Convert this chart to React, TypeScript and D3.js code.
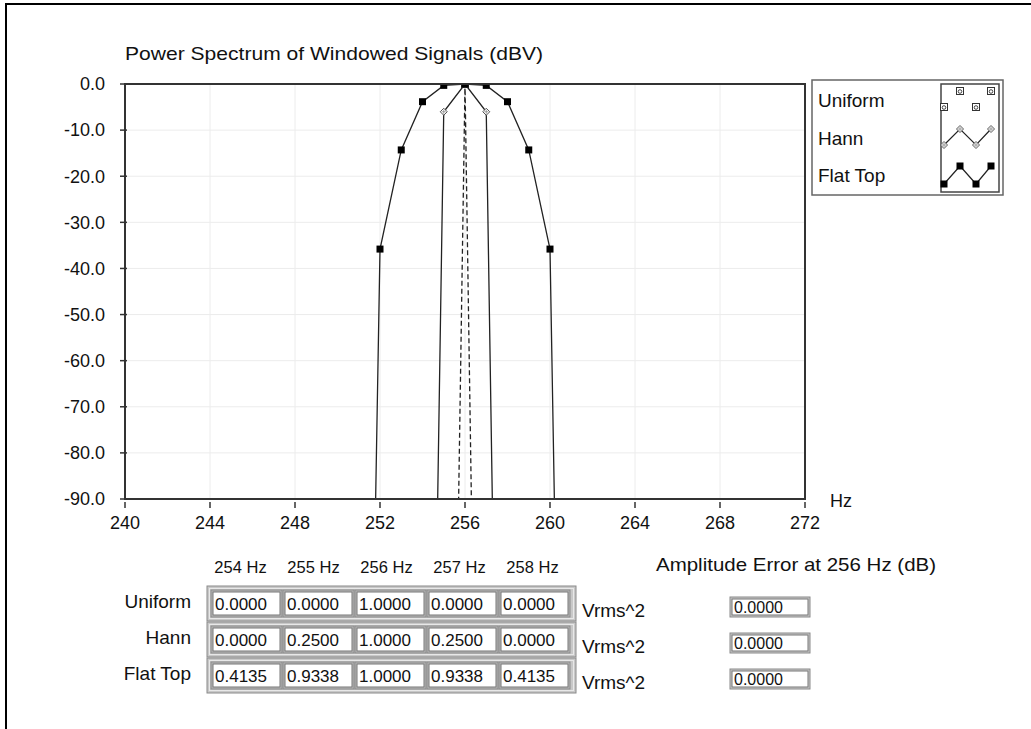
import React from "react";
import * as d3 from "d3";

// ---------- data ----------
const bins = [250, 251, 252, 253, 254, 255, 256, 257, 258, 259, 260, 261, 262];
const uniformDb = [-300, -300, -300, -300, -300, -300, 0, -300, -300, -300, -300, -300, -300];
const hannDb = [-300, -300, -300, -300, -300, -6.02, 0, -6.02, -300, -300, -300, -300, -300];
const flatTopDb = [-300, -300, -35.8, -14.3, -3.84, -0.3, 0, -0.3, -3.84, -14.3, -35.8, -300, -300];

const xTicks = [240, 244, 248, 252, 256, 260, 264, 268, 272];
const yTicks = [0, -10, -20, -30, -40, -50, -60, -70, -80, -90];

const seriesNames = ["Uniform", "Hann", "Flat Top"];
const tableHeaders = ["254 Hz", "255 Hz", "256 Hz", "257 Hz", "258 Hz"];
const uniformVals = ["0.0000", "0.0000", "1.0000", "0.0000", "0.0000"];
const hannVals = ["0.0000", "0.2500", "1.0000", "0.2500", "0.0000"];
const flatTopVals = ["0.4135", "0.9338", "1.0000", "0.9338", "0.4135"];
const ampErrors = ["0.0000", "0.0000", "0.0000"];

const FONT = "'Liberation Sans', Arial, sans-serif";

const PX0 = 125, PX1 = 805, PY0 = 84, PY1 = 499;

function Marker({ kind, x, y }: { kind: string; x: number; y: number }) {
  if (kind === "square") {
    return <rect x={x - 3.5} y={y - 3.5} width={7} height={7} fill="#000" />;
  }
  if (kind === "diamond") {
    return (
      <g>
        <path d={`M${x},${y - 3.5}L${x + 3.5},${y}L${x},${y + 3.5}L${x - 3.5},${y}Z`} fill="#fff" stroke="#555" strokeWidth={1} />
        <path d={`M${x - 2},${y}L${x + 2},${y}M${x},${y - 2}L${x},${y + 2}`} stroke="#888" strokeWidth={0.8} />
      </g>
    );
  }
  return (
    <g>
      <rect x={x - 3.5} y={y - 3.5} width={7} height={7} fill="#fff" stroke="#333" strokeWidth={1} />
      <circle cx={x} cy={y + 0.5} r={1.8} fill="none" stroke="#333" strokeWidth={0.9} />
    </g>
  );
}

export default function App() {
  const x = d3.scaleLinear().domain([240, 272]).range([PX0, PX1]);
  const y = d3.scaleLinear().domain([-90, 0]).range([PY1, PY0]);
  const line = d3
    .line<number>()
    .x((_, i) => x(bins[i]))
    .y((d) => y(d));

  const series = [
    { vals: uniformDb, dash: "5,3", marker: "circle" },
    { vals: hannDb, dash: undefined, marker: "diamond" },
    { vals: flatTopDb, dash: undefined, marker: "square" },
  ];

  // legend symbols
  const legX = [944, 960, 976, 991];
  const legY = [
    [107, 91],
    [145, 129],
    [184, 166],
  ];
  const legLabelY = [107, 145, 182];

  const rowVals = [uniformVals, hannVals, flatTopVals];
  const rowTop0 = 586;
  const rowPitch = 36;
  const cellX0 = 213;
  const cellPitch = 72;
  const cellW = 67;

  return (
    <svg
      width={1031}
      height={729}
      style={{ position: "absolute", left: 0, top: 0, background: "#fff" }}
      fontFamily={FONT}
    >
      <defs>
        <clipPath id="plotclip">
          <rect x={PX0} y={PY0} width={PX1 - PX0} height={PY1 - PY0} />
        </clipPath>
      </defs>
      <rect x={0} y={0} width={1031} height={729} fill="#fff" />
      {/* outer frame */}
      <rect x={6} y={4} width={1100} height={800} fill="none" stroke="#000" strokeWidth={2} />

      {/* title */}
      <text x={125} y={60} fontSize={19} fill="#111" textLength={418} lengthAdjust="spacingAndGlyphs">
        Power Spectrum of Windowed Signals (dBV)
      </text>

      {/* grid */}
      {xTicks.map((t) => (
        <line key={"gx" + t} x1={x(t)} x2={x(t)} y1={PY0} y2={PY1} stroke="#ececec" strokeWidth={1} />
      ))}
      {yTicks.map((t) => (
        <line key={"gy" + t} x1={PX0} x2={PX1} y1={y(t)} y2={y(t)} stroke="#ececec" strokeWidth={1} />
      ))}

      {/* series */}
      <g clipPath="url(#plotclip)">
        {series.map((s, si) => (
          <path
            key={"s" + si}
            d={line(s.vals) || ""}
            fill="none"
            stroke="#222"
            strokeWidth={1.3}
            strokeDasharray={s.dash}
          />
        ))}
        {series.map((s, si) =>
          s.vals.map((v, i) =>
            v > -95 ? <Marker key={`m${si}-${i}`} kind={s.marker} x={x(bins[i])} y={y(v)} /> : null
          )
        )}
      </g>

      {/* plot frame */}
      <rect x={PX0} y={PY0} width={PX1 - PX0} height={PY1 - PY0} fill="none" stroke="#333" strokeWidth={2} />

      {/* y ticks */}
      {yTicks.map((t) => (
        <g key={"yt" + t}>
          <line x1={120} x2={127} y1={y(t)} y2={y(t)} stroke="#333" strokeWidth={1.5} />
          <text x={105} y={y(t)} dy="0.35em" textAnchor="end" fontSize={18} fill="#111">
            {t.toFixed(1)}
          </text>
        </g>
      ))}
      {/* x ticks */}
      {xTicks.map((t) => (
        <g key={"xt" + t}>
          <line x1={x(t)} x2={x(t)} y1={502} y2={508} stroke="#333" strokeWidth={1.5} />
          <text x={x(t)} y={529} textAnchor="middle" fontSize={18} fill="#111">
            {t}
          </text>
        </g>
      ))}
      <text x={830} y={507} fontSize={18} fill="#111">
        Hz
      </text>

      {/* legend */}
      <rect x={812} y={80} width={191} height={115} fill="#fff" stroke="#666" strokeWidth={1.5} />
      <rect x={941} y={84} width={58} height={108} fill="#fff" stroke="#444" strokeWidth={1.5} />
      {seriesNames.map((n, i) => (
        <text key={"ln" + n} x={818} y={legLabelY[i]} fontSize={19} fill="#111">
          {n}
        </text>
      ))}
      {series.map((s, si) => {
        const pts = legX.map((lx, k) => [lx, legY[si][k % 2]] as [number, number]);
        return (
          <g key={"lg" + si}>
            {si > 0 && (
              <path d={d3.line()(pts) || ""} fill="none" stroke="#222" strokeWidth={1.2} />
            )}
            {pts.map((p, k) => (
              <Marker key={k} kind={s.marker} x={p[0]} y={p[1]} />
            ))}
          </g>
        );
      })}

      {/* table headers */}
      {tableHeaders.map((h, i) => (
        <text key={"th" + h} x={240.5 + i * 73} y={573} textAnchor="middle" fontSize={16.5} fill="#111">
          {h}
        </text>
      ))}
      <text x={656} y={571} fontSize={19} fill="#111" textLength={280} lengthAdjust="spacingAndGlyphs">
        Amplitude Error at 256 Hz (dB)
      </text>

      {rowVals.map((vals, r) => {
        const top = rowTop0 + r * rowPitch;
        return (
          <g key={"row" + r}>
            <text x={191} y={top + 22} textAnchor="end" fontSize={19} fill="#111">
              {seriesNames[r]}
            </text>
            {/* row frame */}
            <rect x={207} y={top} width={369} height={35} fill="#c8c8c8" stroke="#8a8a8a" strokeWidth={1} />
            <rect x={209.5} y={top + 2.5} width={364} height={30} fill="none" stroke="#e8e8e8" strokeWidth={1} />
            {vals.map((v, i) => {
              const cx = cellX0 + i * cellPitch;
              return (
                <g key={i}>
                  <rect x={cx - 2} y={top + 4} width={cellW + 4} height={27} fill="#b8b8b8" stroke="#8a8a8a" strokeWidth={1} />
                  <rect x={cx} y={top + 6} width={cellW} height={23} fill="#fff" stroke="#777" strokeWidth={1} />
                  <text x={cx + 2} y={top + 24} fontSize={17} fill="#111">
                    {v}
                  </text>
                </g>
              );
            })}
            <text x={582} y={top + 31} fontSize={19} fill="#111">
              Vrms^2
            </text>
            {/* amplitude error box */}
            <rect x={730} y={top + 11} width={80} height={20} fill="#c8c8c8" stroke="#8a8a8a" strokeWidth={1} />
            <rect x={732} y={top + 13} width={76} height={16} fill="#fff" stroke="#777" strokeWidth={1} />
            <text x={734} y={top + 27} fontSize={16} fill="#111">
              {ampErrors[r]}
            </text>
          </g>
        );
      })}
    </svg>
  );
}
